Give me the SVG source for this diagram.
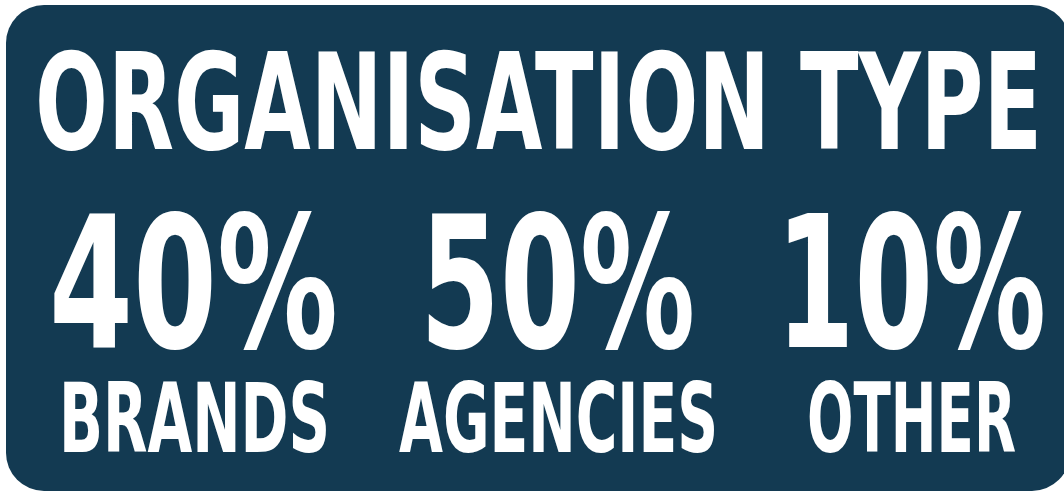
<svg xmlns="http://www.w3.org/2000/svg" width="1064" height="493" viewBox="0 0 1064 493">
<style>
.t{fill:#ffffff;font-family:"DejaVu Sans","Liberation Sans",sans-serif;font-weight:bold;font-stretch:condensed}
.title{font-size:133px}
.pct{font-size:184px}
.lbl{font-size:96px}
</style>
<rect id="panel" x="6" y="5" width="1064" height="486" rx="38" ry="38" fill="#133a52"/>
<g id="title"><text class="t title" x="35" y="149" textLength="1007" lengthAdjust="spacingAndGlyphs">ORGANISATION TYPE</text></g>
<g id="brands">
<text class="t pct" x="49" y="347" textLength="289" lengthAdjust="spacingAndGlyphs">40%</text>
<text class="t lbl" x="59" y="452" textLength="271" lengthAdjust="spacingAndGlyphs">BRANDS</text>
</g>
<g id="agencies">
<text class="t pct" x="420" y="347" textLength="275" lengthAdjust="spacingAndGlyphs">50%</text>
<text class="t lbl" x="399" y="452" textLength="319" lengthAdjust="spacingAndGlyphs">AGENCIES</text>
</g>
<g id="other">
<text class="t pct" x="776" y="347" textLength="270" lengthAdjust="spacingAndGlyphs">10%</text>
<text class="t lbl" x="807" y="452" textLength="209" lengthAdjust="spacingAndGlyphs">OTHER</text>
</g>
</svg>
